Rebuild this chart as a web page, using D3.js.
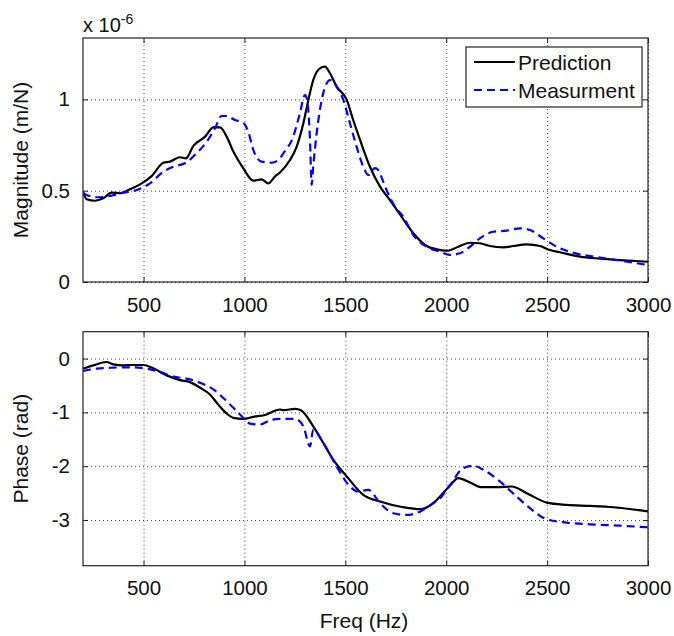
<!DOCTYPE html>
<html>
<head>
<meta charset="utf-8">
<script src="https://cdn.jsdelivr.net/npm/d3@7"></script>
<style>
  body { margin: 0; background: #fff; }
  svg { font-family: "Liberation Sans", Arial, Helvetica, sans-serif; }
  .grid line { stroke: #444; stroke-width: 1; stroke-dasharray: 1,3; }
  .grid .domain { display: none; }
</style>
</head>
<body>
<div id="chart"></div>
<script>
// frequency ticks and value ticks
const freqTicks = [500, 1000, 1500, 2000, 2500, 3000];
const magTicks = [0, 0.5, 1];
const phaseTicks = [-3, -2, -1, 0];
const seriesNames = ['Prediction', 'Measurment'];

// magnitude (x 1e-6 m/N) vs freq (Hz)
const predictionMag = [
  [200, 0.495], [218, 0.453], [260, 0.445], [300, 0.458], [342, 0.489], [383, 0.486],
  [433, 0.508], [491, 0.54], [540, 0.58], [598, 0.653], [631, 0.659], [681, 0.683],
  [710, 0.677], [747, 0.745], [805, 0.796], [846, 0.847], [879, 0.847], [912, 0.796],
  [945, 0.714], [994, 0.623], [1044, 0.555], [1085, 0.562], [1118, 0.54], [1151, 0.577],
  [1176, 0.60], [1226, 0.668], [1259, 0.741], [1292, 0.869], [1317, 0.997], [1341, 1.106],
  [1374, 1.17], [1399, 1.179], [1424, 1.143], [1457, 1.07], [1507, 0.997], [1539, 0.887],
  [1573, 0.778], [1622, 0.631], [1672, 0.522], [1721, 0.449], [1771, 0.37], [1837, 0.267],
  [1903, 0.197], [1953, 0.179], [2002, 0.171], [2060, 0.193], [2118, 0.215], [2167, 0.212],
  [2217, 0.197], [2283, 0.19], [2332, 0.197], [2399, 0.206], [2465, 0.197], [2514, 0.175],
  [2564, 0.163], [2663, 0.139], [2762, 0.128], [2861, 0.12], [3000, 0.111]
];
const measurementMag = [
  [200, 0.486], [218, 0.476], [276, 0.464], [334, 0.471], [400, 0.489], [466, 0.504],
  [532, 0.54], [598, 0.604], [647, 0.631], [705, 0.65], [763, 0.705], [813, 0.768],
  [854, 0.841], [887, 0.909], [912, 0.909], [953, 0.887], [994, 0.872], [1019, 0.823],
  [1044, 0.723], [1085, 0.659], [1135, 0.653], [1176, 0.677], [1193, 0.705], [1242, 0.796],
  [1275, 0.924], [1300, 1.024], [1309, 1.006], [1325, 0.778], [1333, 0.531], [1341, 0.631],
  [1358, 0.814], [1383, 0.997], [1408, 1.088], [1424, 1.106], [1457, 1.07], [1490, 0.997],
  [1523, 0.869], [1556, 0.741], [1589, 0.631], [1614, 0.586], [1647, 0.623], [1663, 0.613],
  [1697, 0.522], [1746, 0.412], [1787, 0.358], [1837, 0.257], [1903, 0.193], [1969, 0.166],
  [2019, 0.148], [2068, 0.157], [2118, 0.193], [2167, 0.239], [2233, 0.275], [2300, 0.281],
  [2366, 0.294], [2415, 0.285], [2481, 0.239], [2547, 0.193], [2630, 0.16], [2729, 0.139],
  [2845, 0.12], [3000, 0.093]
];

// phase (rad) vs freq (Hz)
const predictionPhase = [
  [200, -0.187], [251, -0.125], [317, -0.063], [350, -0.106], [400, -0.125], [449, -0.119],
  [499, -0.119], [548, -0.181], [615, -0.312], [681, -0.4], [730, -0.437], [780, -0.541],
  [829, -0.666], [870, -0.853], [912, -1.021], [945, -1.101], [994, -1.12], [1044, -1.083],
  [1110, -1.04], [1127, -1.008], [1176, -0.946], [1193, -0.959], [1251, -0.933], [1280, -0.96],
  [1341, -1.258], [1391, -1.568], [1440, -1.88], [1507, -2.19], [1589, -2.533], [1672, -2.658],
  [1787, -2.763], [1870, -2.8], [1936, -2.688], [1969, -2.565], [2019, -2.36], [2060, -2.221],
  [2118, -2.303], [2176, -2.39], [2250, -2.39], [2324, -2.378], [2399, -2.501], [2498, -2.677],
  [2597, -2.72], [2712, -2.738], [2828, -2.763], [3000, -2.84]
];
const measurementPhase = [
  [200, -0.231], [268, -0.187], [350, -0.168], [433, -0.162], [516, -0.187], [582, -0.25],
  [647, -0.336], [714, -0.373], [780, -0.448], [846, -0.573], [912, -0.791], [978, -1.04],
  [1028, -1.208], [1077, -1.226], [1127, -1.146], [1176, -1.12], [1251, -1.12], [1292, -1.258],
  [1325, -1.632], [1341, -1.32], [1391, -1.568], [1457, -2.005], [1523, -2.378], [1564, -2.471],
  [1614, -2.44], [1672, -2.688], [1738, -2.875], [1804, -2.907], [1870, -2.845], [1936, -2.688],
  [1969, -2.6], [2019, -2.35], [2085, -2.035], [2134, -1.992], [2184, -2.066], [2266, -2.284],
  [2349, -2.565], [2415, -2.781], [2498, -2.987], [2597, -3.05], [2712, -3.08], [2861, -3.106],
  [3000, -3.136]
];

const width = 674, height = 636;
const left = 83, right = 648;
const tickFont = '20.5px', labelFont = '21px';

const svg = d3.select('#chart').append('svg')
  .attr('width', width)
  .attr('height', height);
svg.append('rect').attr('width', width).attr('height', height).attr('fill', '#fff');

const x = d3.scaleLinear().domain([200, 3000]).range([left, right]);

function drawPanel(opts) {
  const y = d3.scaleLinear().domain(opts.yDomain).range([opts.bottom, opts.top]);
  const h = opts.bottom - opts.top;
  const g = svg.append('g');

  const clipId = 'clip-' + opts.name;
  svg.append('clipPath').attr('id', clipId)
    .append('rect')
    .attr('x', left).attr('y', opts.top)
    .attr('width', right - left).attr('height', h);

  // grid
  g.append('g').attr('class', 'grid')
    .attr('transform', `translate(0, ${opts.bottom})`)
    .call(d3.axisBottom(x).tickValues(freqTicks).tickSize(-h).tickFormat(''));
  g.append('g').attr('class', 'grid')
    .attr('transform', `translate(${left}, 0)`)
    .call(d3.axisLeft(y).tickValues(opts.yTicks).tickSize(-(right - left)).tickFormat(''));

  // lines
  const line = d3.line()
    .x(d => x(d[0]))
    .y(d => y(d[1]))
    .curve(d3.curveMonotoneX);

  const lines = g.append('g').attr('clip-path', `url(#${clipId})`);
  lines.append('path')
    .datum(opts.pred)
    .attr('fill', 'none')
    .attr('stroke', '#000')
    .attr('stroke-width', 2.2)
    .attr('stroke-linejoin', 'round')
    .attr('d', line);
  lines.append('path')
    .datum(opts.meas)
    .attr('fill', 'none')
    .attr('stroke', '#0000ff')
    .attr('stroke-width', 2.2)
    .attr('stroke-dasharray', '8,5')
    .attr('d', line);

  // axes with inward ticks
  const xAxisB = g.append('g')
    .attr('transform', `translate(0, ${opts.bottom})`)
    .call(d3.axisBottom(x).tickValues(freqTicks).tickSizeInner(-5).tickSizeOuter(0)
      .tickPadding(15).tickFormat(d3.format('d')));
  const xAxisT = g.append('g')
    .attr('transform', `translate(0, ${opts.top})`)
    .call(d3.axisTop(x).tickValues(freqTicks).tickSizeInner(-5).tickSizeOuter(0).tickFormat(''));
  const yAxisL = g.append('g')
    .attr('transform', `translate(${left}, 0)`)
    .call(d3.axisLeft(y).tickValues(opts.yTicks).tickSizeInner(-5).tickSizeOuter(0)
      .tickPadding(13).tickFormat(d => String(d)));
  const yAxisR = g.append('g')
    .attr('transform', `translate(${right}, 0)`)
    .call(d3.axisRight(y).tickValues(opts.yTicks).tickSizeInner(-5).tickSizeOuter(0).tickFormat(''));

  [xAxisB, xAxisT, yAxisL, yAxisR].forEach(a => {
    a.select('.domain').remove();
    a.selectAll('line').attr('stroke', '#222');
    a.selectAll('text')
      .attr('fill', '#111')
      .style('font-size', tickFont)
      .style('font-family', '"Liberation Sans", Arial, sans-serif');
  });

  // box
  g.append('rect')
    .attr('x', left).attr('y', opts.top)
    .attr('width', right - left).attr('height', h)
    .attr('fill', 'none')
    .attr('stroke', '#222')
    .attr('stroke-width', 1.2);

  // y label
  g.append('text')
    .attr('transform', `translate(28, ${(opts.top + opts.bottom) / 2}) rotate(-90)`)
    .attr('text-anchor', 'middle')
    .attr('fill', '#111')
    .style('font-size', labelFont)
    .text(opts.label);

  return y;
}

drawPanel({
  name: 'mag', top: 38, bottom: 282, yDomain: [0, 1.336], yTicks: magTicks,
  pred: predictionMag, meas: measurementMag, label: 'Magnitude (m/N)'
});

drawPanel({
  name: 'phase', top: 331.7, bottom: 565.7, yDomain: [-3.85, 0.5], yTicks: phaseTicks,
  pred: predictionPhase, meas: measurementPhase, label: 'Phase (rad)'
});

// exponent
const expo = svg.append('text')
  .attr('x', 83).attr('y', 32)
  .attr('fill', '#111')
  .style('font-size', '20px');
expo.append('tspan').text('x 10');
expo.append('tspan').attr('dy', -8).style('font-size', '14px').text('-6');

// x label
svg.append('text')
  .attr('x', 364).attr('y', 628)
  .attr('text-anchor', 'middle')
  .attr('fill', '#111')
  .style('font-size', labelFont)
  .text('Freq (Hz)');

// legend
const legend = svg.append('g');
legend.append('rect')
  .attr('x', 466).attr('y', 47)
  .attr('width', 176).attr('height', 60)
  .attr('fill', '#fff')
  .attr('stroke', '#222')
  .attr('stroke-width', 1.2);
const legendStyles = [
  { color: '#000', dash: null, y: 62 },
  { color: '#0000ff', dash: '8,5', y: 90 }
];
seriesNames.forEach((name, i) => {
  const s = legendStyles[i];
  legend.append('line')
    .attr('x1', 474).attr('x2', 515)
    .attr('y1', s.y).attr('y2', s.y)
    .attr('stroke', s.color)
    .attr('stroke-width', 2)
    .attr('stroke-dasharray', s.dash);
  legend.append('text')
    .attr('x', 518).attr('y', s.y + 8)
    .attr('fill', '#111')
    .style('font-size', labelFont)
    .text(name);
});
</script>
</body>
</html>
